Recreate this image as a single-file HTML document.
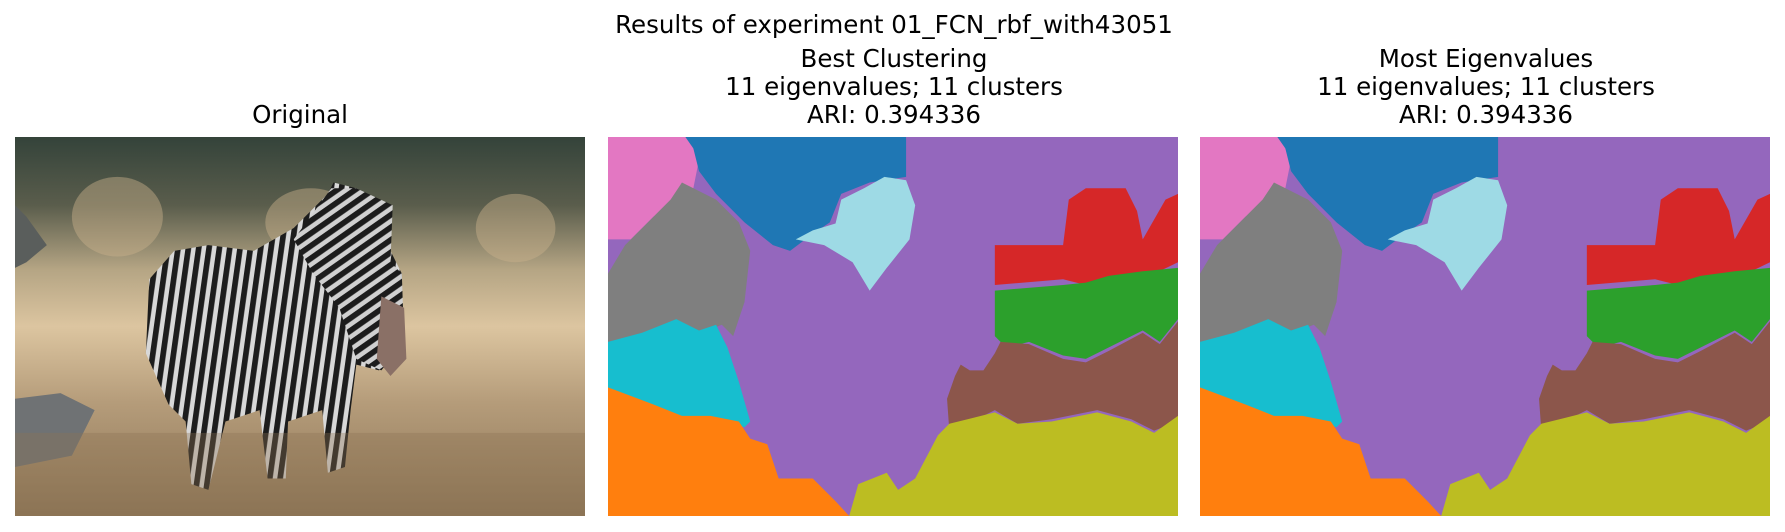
<!DOCTYPE html>
<html><head><meta charset="utf-8"><style>
html,body{margin:0;padding:0;background:#fff;width:1785px;height:532px;overflow:hidden}
.t{position:absolute;font-family:"DejaVu Sans","Liberation Sans",sans-serif;font-size:24.5px;color:#000;text-align:center;white-space:nowrap;line-height:28px}
svg{position:absolute}
</style></head><body>
<div class="t" style="left:494px;width:800px;top:11px">Results of experiment 01_FCN_rbf_with43051</div>
<div class="t" style="left:100px;width:400px;top:101px">Original</div>
<div class="t" style="left:694px;width:400px;top:45px">Best Clustering<br>11 eigenvalues; 11 clusters<br>ARI: 0.394336</div>
<div class="t" style="left:1286px;width:400px;top:45px">Most Eigenvalues<br>11 eigenvalues; 11 clusters<br>ARI: 0.394336</div>

<svg style="left:15px;top:137px" width="570" height="379" viewBox="0 0 501 333" preserveAspectRatio="none">
<defs>
<linearGradient id="bg" x1="0" y1="0" x2="0" y2="1">
<stop offset="0" stop-color="#34433a"/><stop offset="0.18" stop-color="#5a5d4c"/><stop offset="0.35" stop-color="#b5a584"/><stop offset="0.5" stop-color="#dcc5a0"/><stop offset="0.7" stop-color="#b59c7a"/><stop offset="1" stop-color="#8c7556"/></linearGradient>
<pattern id="str" width="9" height="333" patternUnits="userSpaceOnUse" patternTransform="rotate(8)"><rect width="9" height="333" fill="#d8d8d8"/><rect width="5" height="333" fill="#1c1c1c"/></pattern>
<pattern id="str2" width="9" height="9" patternUnits="userSpaceOnUse" patternTransform="rotate(-35)"><rect width="9" height="9" fill="#d0d0d0"/><rect width="9" height="5" fill="#1c1c1c"/></pattern>
</defs>
<rect width="501" height="333" fill="url(#bg)"/>
<ellipse cx="90" cy="70" rx="40" ry="35" fill="#c9b28c" opacity="0.45"/>
<ellipse cx="260" cy="75" rx="40" ry="30" fill="#c9b28c" opacity="0.45"/>
<ellipse cx="440" cy="80" rx="35" ry="30" fill="#c9b28c" opacity="0.45"/>
<path d="M0 230 L40 225 L70 240 L50 280 L0 290 Z" fill="#6f7274"/>
<path d="M0 60 L10 70 L28 95 L10 110 L0 115 Z" fill="#5a5e5c"/>
<path d="M118 125 L140 100 L170 95 L210 100 L245 80 L275 50 L280 40 L300 45 L330 60 L330 100 L340 120 L340 175 L320 205 L300 200 L295 240 L290 290 L275 295 L270 240 L240 250 L238 300 L222 300 L215 240 L185 250 L170 310 L155 305 L150 250 L135 235 L115 190 Z" fill="url(#str)"/>
<path d="M245 90 L278 45 L300 45 L332 60 L330 110 L340 120 L342 180 L322 205 L300 195 L285 150 L262 120 Z" fill="url(#str2)"/>
<path d="M322 140 L342 150 L344 195 L330 210 L318 195 Z" fill="#8a7066"/>
<rect y="260" width="501" height="73" fill="#8d7453" opacity="0.35"/>
</svg>

<svg style="left:608px;top:137px" width="570" height="379" viewBox="0 0 501 333" preserveAspectRatio="none">
<g id="seg">
<rect width="501" height="333" fill="#9467bd"/>
<polygon fill="#e377c2" points="0,0 70,0 80,20 75,45 40,70 20,90 0,90"/>
<polygon fill="#1f77b4" points="68,0 262,0 262,35 230,40 205,50 195,75 180,85 160,100 145,95 120,75 95,50 80,30 75,10"/>
<polygon fill="#9edae5" points="243,35 262,38 270,60 265,90 245,115 230,135 215,110 190,95 165,90 180,82 200,76 205,55 225,45"/>
<polygon fill="#7f7f7f" points="65,40 95,55 115,75 125,100 120,145 110,175 100,165 75,175 40,170 15,180 0,180 0,120 15,95 35,75 55,55"/>
<polygon fill="#17becf" points="0,180 30,172 60,160 80,170 95,165 105,185 115,215 125,250 120,255 90,245 60,248 40,240 0,230"/>
<polygon fill="#ff7f0e" points="0,220 40,235 65,245 90,245 115,250 125,265 140,270 150,300 180,300 200,320 212,333 0,333"/>
<polygon fill="#d62728" points="340,105 340,95 400,95 405,55 420,45 455,45 465,65 470,90 490,55 501,50 501,110 470,125 440,125 420,130 400,125 340,130"/>
<polygon fill="#2ca02c" points="340,135 400,130 420,128 440,122 470,118 501,115 501,160 485,180 470,170 440,185 420,195 400,192 370,180 350,185 340,175"/>
<polygon fill="#8c564b" points="345,180 370,182 400,195 420,198 440,188 470,172 485,182 501,162 501,250 480,258 460,248 430,240 390,248 360,252 340,240 320,250 300,258 298,230 305,210 310,200 318,205 330,205 340,190"/>
<polygon fill="#bcbd22" points="212,333 220,305 245,295 255,310 270,300 290,262 300,252 320,247 340,242 360,252 390,250 430,242 460,250 480,260 501,245 501,333"/>
</g>
</svg>

<svg style="left:1200px;top:137px" width="570" height="379" viewBox="0 0 501 333" preserveAspectRatio="none">
<use href="#seg"/>
</svg>
</body></html>
